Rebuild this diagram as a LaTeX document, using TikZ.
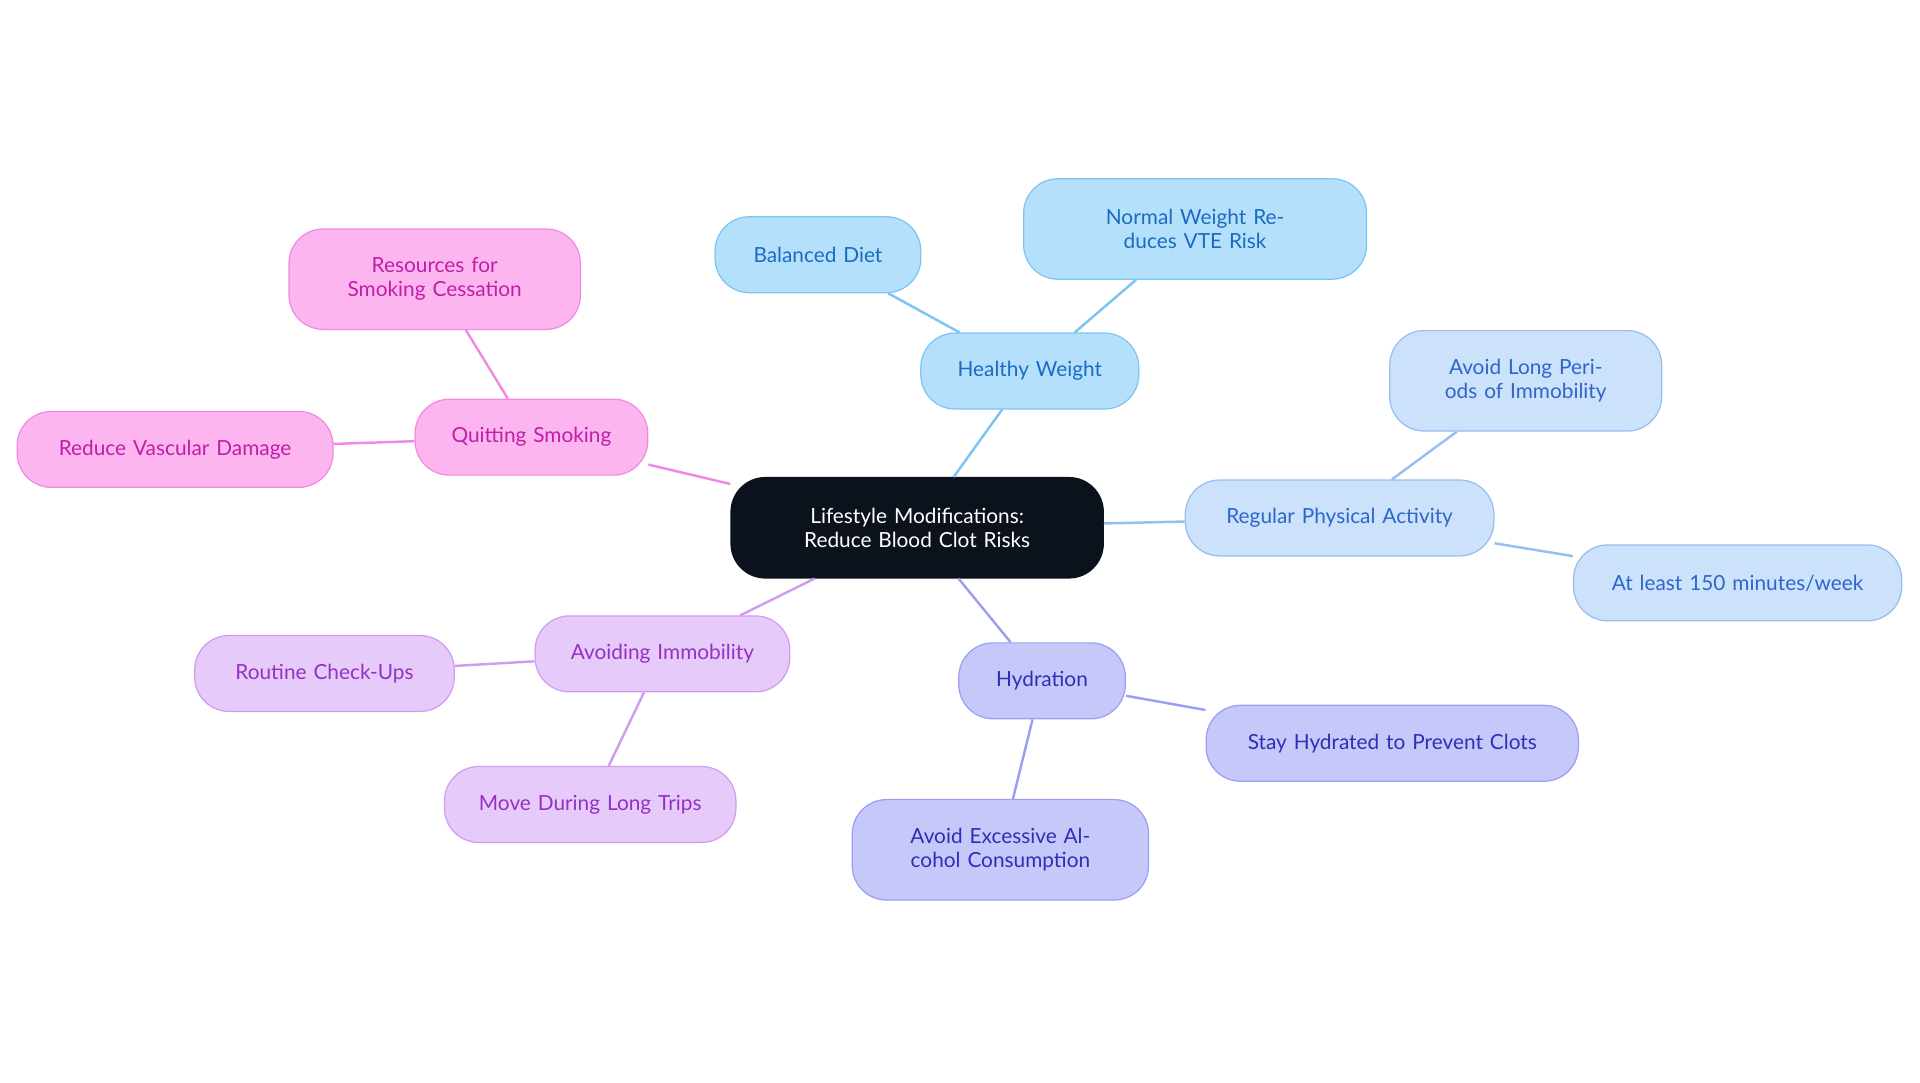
\documentclass[tikz,border=0pt]{standalone}
\usepackage{fontspec}
\setmainfont{Lato}
\definecolor{rootc}{HTML}{0B121C}
\definecolor{hwF}{HTML}{B5E0FC}\definecolor{hwS}{HTML}{7CC4F2}\definecolor{hwT}{HTML}{1A6CBF}
\definecolor{paF}{HTML}{CCE1FA}\definecolor{paS}{HTML}{96BEF0}\definecolor{paT}{HTML}{2D66CC}
\definecolor{hyF}{HTML}{C6C8FA}\definecolor{hyS}{HTML}{9C9EF0}\definecolor{hyT}{HTML}{2E2EB8}
\definecolor{aiF}{HTML}{E6CBFA}\definecolor{aiS}{HTML}{CF9CF0}\definecolor{aiT}{HTML}{9430C4}
\definecolor{qsF}{HTML}{FDB5F0}\definecolor{qsS}{HTML}{F08AE0}\definecolor{qsT}{HTML}{C01EA8}
\begin{document}
\begin{tikzpicture}[x=1pt,y=-1pt,
 b/.style={rounded corners=28pt,draw,line width=1pt,align=center,inner sep=0pt,font=\fontsize{17}{19.5}\selectfont},
 hw/.style={b,fill=hwF,draw=hwS,text=hwT},
 pa/.style={b,fill=paF,draw=paS,text=paT},
 hy/.style={b,fill=hyF,draw=hyS,text=hyT},
 ai/.style={b,fill=aiF,draw=aiS,text=aiT},
 qs/.style={b,fill=qsF,draw=qsS,text=qsT},
 e/.style={line width=2pt}]
\useasboundingbox (0,0) rectangle (1568,884);
\newcommand{\nd}[6]{\node[#1,minimum width=#4pt,minimum height=#5pt,text width=#4pt-30pt] (#2) at (#3) {#6};}
\nd{b,fill=rootc,draw=rootc,text=white}{root}{749,431}{304}{82}{Lifestyle Modifications: Reduce Blood Clot Risks}
\nd{hw}{hw}{841,303}{178}{62}{Healthy Weight}
\nd{hw}{bd}{668,208}{168}{62}{Balanced Diet}
\nd{hw}{nw}{976,187}{280}{82}{Normal Weight Reduces VTE Risk}
\nd{pa}{pa}{1094,423}{252}{62}{Regular Physical Activity}
\nd{pa}{al}{1246,311}{222}{82}{Avoid Long Periods of Immobility}
\nd{pa}{al2}{1419,476}{268}{62}{At least 150 minutes/week}
\nd{hy}{hy}{851,556}{136}{62}{Hydration}
\nd{hy}{sh}{1137,607}{304}{62}{Stay Hydrated to Prevent Clots}
\nd{hy}{ae}{817,694}{242}{82}{Avoid Excessive Alcohol Consumption}
\nd{ai}{ai}{541,534}{208}{62}{Avoiding Immobility}
\nd{ai}{rc}{265,550}{212}{62}{Routine Check-Ups}
\nd{ai}{mv}{482,657}{238}{62}{Move During Long Trips}
\nd{qs}{qs}{434,357}{190}{62}{Quitting Smoking}
\nd{qs}{rs}{355,228}{238}{82}{Resources for Smoking Cessation}
\nd{qs}{rv}{143,367}{258}{62}{Reduce Vascular Damage}
\begin{scope}[on background layer/.style={}]
\end{scope}
\draw[e,hwS] (root) -- (hw); \draw[e,hwS] (hw) -- (bd); \draw[e,hwS] (hw) -- (nw);
\draw[e,paS] (root) -- (pa); \draw[e,paS] (pa) -- (al); \draw[e,paS] (pa) -- (al2);
\draw[e,hyS] (root) -- (hy); \draw[e,hyS] (hy) -- (sh); \draw[e,hyS] (hy) -- (ae);
\draw[e,aiS] (root) -- (ai); \draw[e,aiS] (ai) -- (rc); \draw[e,aiS] (ai) -- (mv);
\draw[e,qsS] (root) -- (qs); \draw[e,qsS] (qs) -- (rs); \draw[e,qsS] (qs) -- (rv);
\end{tikzpicture}
\end{document}
